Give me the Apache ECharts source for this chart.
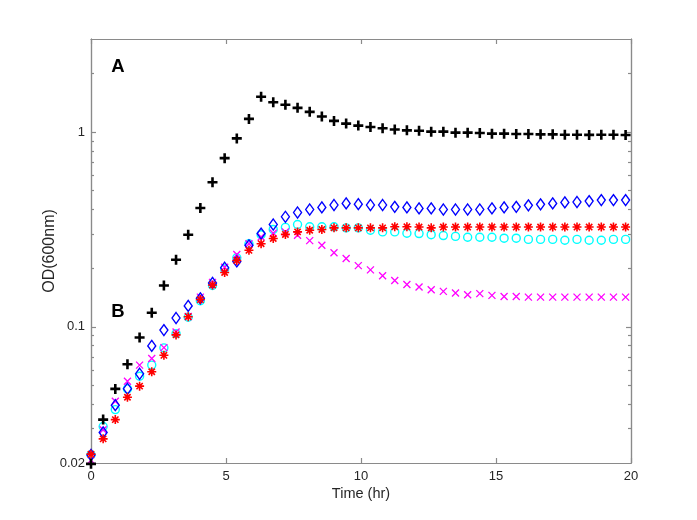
<!DOCTYPE html>
<html>
<head>
<meta charset="utf-8">
<script src="https://cdn.jsdelivr.net/npm/echarts@6/dist/echarts.min.js"></script>
<style>
html,body{margin:0;padding:0;background:#fff;}
#chart{width:697px;height:520px;}
</style>
</head>
<body>
<div id="chart"></div>
<script>
// Sampling times (hr)
var timeHr = [0, 0.45, 0.9, 1.35, 1.8, 2.25, 2.7, 3.15, 3.6, 4.05, 4.5, 4.95, 5.4, 5.85, 6.3, 6.75, 7.2, 7.65, 8.1, 8.55, 9, 9.45, 9.9, 10.35, 10.8, 11.25, 11.7, 12.15, 12.6, 13.05, 13.5, 13.95, 14.4, 14.85, 15.3, 15.75, 16.2, 16.65, 17.1, 17.55, 18, 18.45, 18.9, 19.35, 19.8];

// OD(600nm) values per series
var odBlack = [0.0198, 0.0334, 0.048, 0.0642, 0.0881, 0.118, 0.163, 0.221, 0.297, 0.407, 0.552, 0.734, 0.927, 1.167, 1.516, 1.421, 1.379, 1.33, 1.268, 1.2, 1.14, 1.104, 1.078, 1.06, 1.045, 1.03, 1.019, 1.015, 1.004, 1.004, 0.992, 0.992, 0.988, 0.98, 0.98, 0.976, 0.976, 0.972, 0.972, 0.968, 0.968, 0.966, 0.968, 0.968, 0.965];
var odBlue = [0.022, 0.0287, 0.0396, 0.0481, 0.0574, 0.0798, 0.0962, 0.111, 0.128, 0.14, 0.168, 0.201, 0.2166, 0.262, 0.301, 0.335, 0.367, 0.386, 0.4, 0.41, 0.422, 0.43, 0.426, 0.422, 0.422, 0.413, 0.41, 0.405, 0.405, 0.4, 0.4, 0.4, 0.4, 0.405, 0.41, 0.413, 0.42, 0.425, 0.43, 0.435, 0.437, 0.442, 0.447, 0.447, 0.447];
var odCyan = [0.022, 0.0308, 0.0376, 0.048, 0.0558, 0.0636, 0.078, 0.0923, 0.112, 0.136, 0.163, 0.198, 0.226, 0.267, 0.297, 0.316, 0.324, 0.335, 0.326, 0.326, 0.326, 0.322, 0.322, 0.313, 0.307, 0.307, 0.302, 0.301, 0.297, 0.294, 0.291, 0.288, 0.288, 0.288, 0.285, 0.285, 0.281, 0.281, 0.281, 0.278, 0.281, 0.278, 0.278, 0.281, 0.281];
var odRed = [0.0222, 0.0266, 0.0334, 0.0435, 0.0496, 0.0588, 0.0714, 0.0909, 0.1127, 0.138, 0.164, 0.19, 0.219, 0.247, 0.267, 0.284, 0.298, 0.307, 0.313, 0.316, 0.322, 0.322, 0.322, 0.322, 0.322, 0.326, 0.326, 0.325, 0.322, 0.325, 0.325, 0.325, 0.325, 0.325, 0.325, 0.325, 0.325, 0.325, 0.325, 0.325, 0.325, 0.325, 0.325, 0.325, 0.325];
var odMagenta = [0.0207, 0.0296, 0.0415, 0.0526, 0.0636, 0.0688, 0.0782, 0.094, 0.113, 0.142, 0.169, 0.202, 0.235, 0.267, 0.289, 0.302, 0.307, 0.295, 0.277, 0.262, 0.24, 0.224, 0.206, 0.196, 0.183, 0.173, 0.165, 0.16, 0.155, 0.152, 0.149, 0.146, 0.148, 0.145, 0.143, 0.143, 0.142, 0.142, 0.142, 0.142, 0.142, 0.142, 0.142, 0.142, 0.142];

// Axis ticks
var xTicks = [0, 5, 10, 15, 20];
var yLabels = [0.02, 0.1, 1];
var yMajorTicks = [0.1, 1];
var yMinorTicks = [0.03, 0.04, 0.05, 0.06, 0.07, 0.08, 0.09, 0.2, 0.3, 0.4, 0.5, 0.6, 0.7, 0.8, 0.9, 2];
var panelLabels = ['A', 'B'];

function pairs(ys) { return timeHr.map(function (t, i) { return [t, ys[i]]; }); }

var FONT = '"Liberation Sans", Arial, sans-serif';
var AXC = '#8a8a8a';
var TXT = '#262626';

function yAx(pos, ticks, len, labels) {
  return {
    type: 'log', logBase: 10, min: 0.02, max: 3, position: pos,
    axisLine: { show: true, lineStyle: { color: AXC, width: 1.2 } },
    axisTick: { show: true, inside: true, length: len, customValues: ticks, lineStyle: { color: AXC, width: 1.2 } },
    axisLabel: labels ? {
      show: true, customValues: labels, margin: 6, color: TXT, fontSize: 13, fontFamily: FONT,
      formatter: function (v) { return String(parseFloat(Number(v).toPrecision(6))); }
    } : { show: false },
    splitLine: { show: false }, minorTick: { show: false }
  };
}

var sym = {
  plus: 'path://M5,0L5,10M0,5L10,5',
  cross: 'path://M0,0L10,10M10,0L0,10',
  star: 'path://M5,0L5,10M0,5L10,5M1.5,1.5L8.5,8.5M8.5,1.5L1.5,8.5'
};

function sc(name, data, symbol, size, color, bw) {
  return {
    type: 'scatter', name: name, data: pairs(data), symbol: symbol, symbolSize: size, clip: false,
    xAxisIndex: 0, yAxisIndex: 0,
    itemStyle: { color: 'rgba(0,0,0,0)', borderColor: color, borderWidth: bw, opacity: 1 },
    emphasis: { disabled: true }
  };
}

var chart = echarts.init(document.getElementById('chart'), null, { renderer: 'canvas' });
chart.setOption({
  animation: false,
  backgroundColor: '#ffffff',
  grid: { left: 91, right: 66, top: 39, bottom: 57 },
  xAxis: [
    {
      type: 'value', min: 0, max: 20, interval: 5, position: 'bottom',
      name: 'Time (hr)', nameLocation: 'middle', nameGap: 23, nameMoveOverlap: false,
      nameTextStyle: { color: TXT, fontSize: 14.5, fontFamily: FONT },
      axisLine: { show: true, lineStyle: { color: AXC, width: 1.2 } },
      axisTick: { show: true, inside: true, length: 5, customValues: xTicks, lineStyle: { color: AXC, width: 1.2 } },
      axisLabel: { show: true, margin: 7, color: TXT, fontSize: 13, fontFamily: FONT, customValues: xTicks },
      splitLine: { show: false }
    },
    {
      type: 'value', min: 0, max: 20, interval: 5, position: 'top',
      axisLine: { show: true, lineStyle: { color: AXC, width: 1.2 } },
      axisTick: { show: true, inside: true, length: 5, customValues: xTicks, lineStyle: { color: AXC, width: 1.2 } },
      axisLabel: { show: false },
      splitLine: { show: false }
    }
  ],
  yAxis: [
    Object.assign(yAx('left', yMajorTicks, 5, yLabels), {
      name: 'OD(600nm)', nameLocation: 'middle', nameGap: 33, nameMoveOverlap: false,
      nameTextStyle: { color: TXT, fontSize: 16, fontFamily: FONT }
    }),
    yAx('left', yMinorTicks, 3, null),
    yAx('right', yMajorTicks, 5, null),
    yAx('right', yMinorTicks, 3, null)
  ],
  series: [
    sc('cyan', odCyan, 'circle', 8, '#00ffff', 1.4),
    sc('magenta', odMagenta, sym.cross, 7, '#ff00ff', 1.3),
    sc('blue', odBlue, 'diamond', [8, 11], '#0000ff', 1.4),
    sc('red', odRed, sym.star, 9, '#ff0000', 1.6),
    sc('black', odBlack, sym.plus, 10, '#000000', 2.6)
  ],
  graphic: [
    { type: 'text', style: { x: 118, y: 67, text: panelLabels[0], align: 'center', verticalAlign: 'middle', font: 'bold 18.5px "Liberation Sans", Arial, sans-serif', fill: '#000' } },
    { type: 'text', style: { x: 118, y: 312, text: panelLabels[1], align: 'center', verticalAlign: 'middle', font: 'bold 18.5px "Liberation Sans", Arial, sans-serif', fill: '#000' } }
  ]
});
</script>
</body>
</html>
